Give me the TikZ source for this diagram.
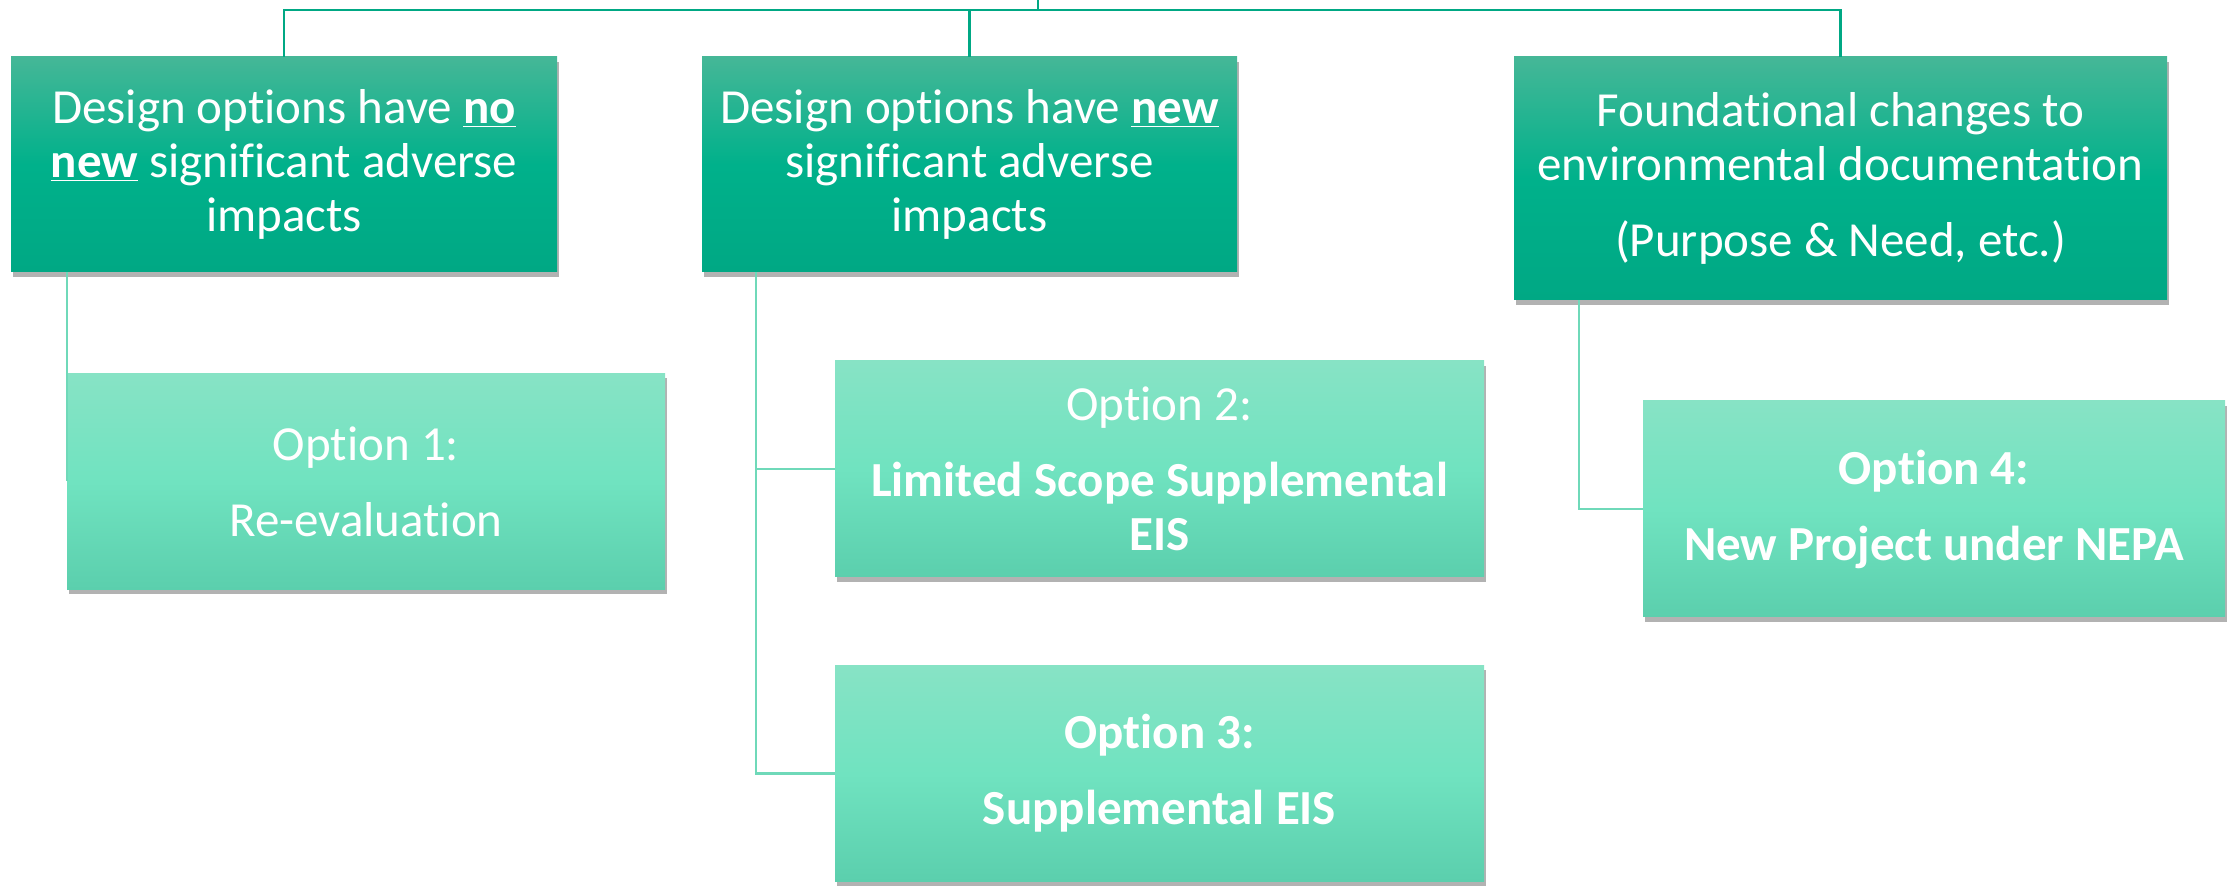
\documentclass[tikz,border=0pt]{standalone}
\usepackage{fontspec}
\setmainfont{Carlito}[Ligatures=NoCommon]
\usepackage{tikz}
\usetikzlibrary{
  positioning,
  shadows
}
\definecolor{hdtop}{HTML}{45B797}
\definecolor{hdmid}{HTML}{00B18B}
\definecolor{hdbot}{HTML}{00A884}
\definecolor{optop}{HTML}{87E3C5}
\definecolor{opmid}{HTML}{70E3C0}
\definecolor{opbot}{HTML}{5BCFAD}
\definecolor{buscolor}{HTML}{00A884}
\definecolor{linkcolor}{HTML}{6FD9B9}

\begin{document}
\begin{tikzpicture}[
  x=0.5pt, y=-0.5pt,
  box/.style={text=white, align=center, inner sep=0pt,
              font=\fontsize{24.5}{27}\selectfont,
              drop shadow={shadow xshift=1pt, shadow yshift=-2.5pt,
                           opacity=0.3, fill=black}},
  head/.style={box, top color=hdtop, bottom color=hdbot, middle color=hdmid,
               minimum height=107.5pt},
  opt/.style={box, top color=optop, bottom color=opbot, middle color=opmid,
              minimum height=108pt},
  bus/.style={draw=buscolor, line width=1.3pt},
  link/.style={draw=linkcolor, line width=1.1pt},
]
  \useasboundingbox (0,0) rectangle (2229,886);

  % Top row
  \node[head, minimum width=273pt] (d1) at (284,164.5)
    {Design options have \underline{\textbf{no}}\\
     \underline{\textbf{new}} significant adverse\\impacts};
  \node[head, minimum width=267.5pt] (d2) at (969.5,164.5)
    {Design options have \underline{\textbf{new}}\\
     significant adverse\\impacts};
  \node[head, minimum width=326.5pt, minimum height=121.5pt] (d3) at (1840.5,178.5)
    {Foundational changes to\\environmental documentation\\[11pt]
     (Purpose \& Need, etc.)};

  % Options
  \node[opt, minimum width=299pt] (o1) at (366,481.5)
    {Option 1:\\[11pt]Re-evaluation};
  \node[opt, minimum width=324.5pt] (o2) at (1159.5,469)
    {Option 2:\\[11pt]\textbf{Limited Scope Supplemental}\\\textbf{EIS}};
  \node[opt, minimum width=324.5pt, font=\fontsize{24.5}{27}\selectfont\bfseries]
    (o3) at (1159.5,773.5) {Option 3:\\[11pt]Supplemental EIS};
  \node[opt, minimum width=291pt, font=\fontsize{24.5}{27}\selectfont\bfseries]
    (o4) at (1934,509) {Option 4:\\[11pt]New Project under NEPA};

  % Connectors
  \coordinate (root) at (1038,0);
  \coordinate (fork) at (1038,10);
  \draw[bus] (root) -- (fork);
  \draw[bus] (fork) -| (d1.north);
  \draw[bus] (fork) -| (d2.north);
  \draw[bus] (fork) -| (d3.north);

  \draw[link] ([xshift=28pt]d1.south west) |- (o1.west);
  \draw[link] ([xshift=27pt]d2.south west) |- (o2.west);
  \draw[link] ([xshift=27pt]d2.south west) |- (o3.west);
  \draw[link] ([xshift=32.5pt]d3.south west) |- (o4.west);
\end{tikzpicture}
\end{document}
